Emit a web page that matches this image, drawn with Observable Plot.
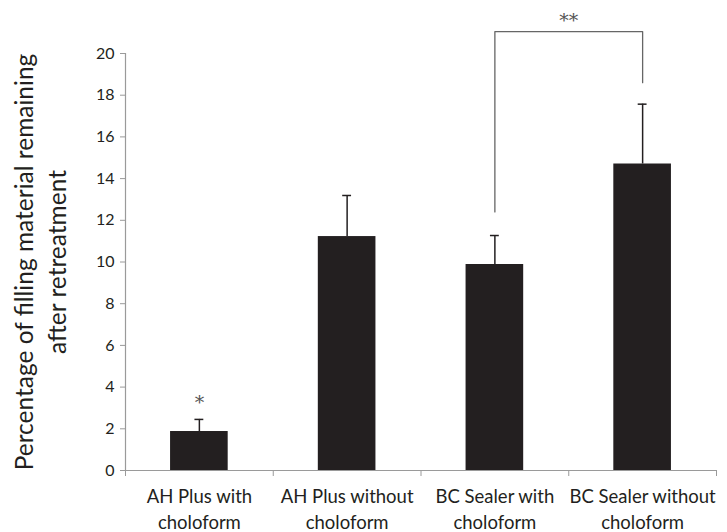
<!DOCTYPE html>
<html>
<head>
<meta charset="utf-8">
<script src="https://cdn.jsdelivr.net/npm/d3@7"></script>
<script src="https://cdn.jsdelivr.net/npm/@observablehq/plot@0.6"></script>
<style>
  html, body { margin: 0; padding: 0; background: #fff; }
  #chart svg { display: block; }
</style>
</head>
<body>
<div id="chart"></div>
<script>
// ---- data ----
const categories = [
  "AH Plus with\ncholoform",
  "AH Plus without\ncholoform",
  "BC Sealer with\ncholoform",
  "BC Sealer without\ncholoform"
];
const means = [1.87, 11.22, 9.88, 14.70];
const errors = [0.58, 1.97, 1.39, 2.87];
const starLabels = ["*", "", "", ""];
const yTicks = [0, 2, 4, 6, 8, 10, 12, 14, 16, 18, 20];
const bracketGroups = [2, 3];          // indices of the compared bars
const bracketTop = 21.05;              // value level of bracket's top line
const bracketEnds = [12.4, 18.6];      // value level of bracket's lower ends
const bracketLabel = "**";
const yTitle = "Percentage of filling material remaining\nafter retreatment";

// ---- derived tables ----
const half = 0.195;     // half bar width in category units
const cap = 0.03;       // half error cap width
const rows = categories.map((c, i) => ({
  i, c, pos: i + 0.5, mean: means[i], top: means[i] + errors[i], star: starLabels[i]
}));
const bracket = [
  {x: bracketGroups[0] + 0.5, y: bracketEnds[0]},
  {x: bracketGroups[0] + 0.5, y: bracketTop},
  {x: bracketGroups[1] + 0.5, y: bracketTop},
  {x: bracketGroups[1] + 0.5, y: bracketEnds[1]}
];
const boundaries = d3.range(categories.length + 1);

const ink = "#231f20";
const axisGrey = "#9a9a9a";
const font = "Lato, 'Open Sans', sans-serif";

const chart = Plot.plot({
  width: 727,
  height: 532,
  marginLeft: 125,
  marginRight: 11,
  marginTop: 53,
  marginBottom: 62,
  x: {domain: [0, categories.length]},
  y: {domain: [0, 20]},
  style: {fontFamily: font, background: "#fff", color: ink},
  marks: [
    Plot.ruleY([0], {x1: 0, x2: categories.length, stroke: axisGrey, strokeWidth: 1.2}),
    Plot.ruleX([0], {y1: 0, y2: 20, stroke: axisGrey, strokeWidth: 1.2}),
    Plot.axisY(yTicks, {tickSize: 5, tickPadding: 6, fontSize: 16, stroke: axisGrey, fill: ink, label: null}),
    Plot.axisX(boundaries, {tickSize: 6, tickFormat: () => "", stroke: axisGrey, label: null}),
    Plot.axisX(rows.map(d => d.pos), {
      tickSize: 0, tickPadding: 13, fontSize: 18.5, lineHeight: 1.45, fill: ink, label: null,
      tickFormat: p => categories[Math.floor(p)]
    }),
    Plot.rectY(rows, {x1: d => d.pos - half, x2: d => d.pos + half, y1: 0, y2: "mean", fill: ink}),
    Plot.ruleX(rows, {x: "pos", y1: "mean", y2: "top", stroke: ink, strokeWidth: 1.5}),
    Plot.ruleY(rows, {x1: d => d.pos - cap, x2: d => d.pos + cap, y: "top", stroke: ink, strokeWidth: 1.5}),
    Plot.text(rows, {x: "pos", y: "top", text: "star", dy: -17, fontSize: 19, fill: "#555",
      fontFamily: "'DejaVu Serif', serif"}),
    Plot.line(bracket, {x: "x", y: "y", stroke: "#666", strokeWidth: 1.3}),
    Plot.text([bracketLabel], {
      x: (bracketGroups[0] + bracketGroups[1]) / 2 + 0.5, y: bracketTop, text: d => d,
      dy: -11, fontSize: 19, fill: "#555", fontFamily: "'DejaVu Serif', serif"
    }),
    Plot.text([yTitle], {
      frameAnchor: "left", text: d => d, rotate: -90, dx: -87, fontSize: 24.5,
      lineHeight: 1.35, lineAnchor: "middle", textAnchor: "middle", fill: ink
    })
  ]
});
document.getElementById("chart").appendChild(chart);
</script>
</body>
</html>
